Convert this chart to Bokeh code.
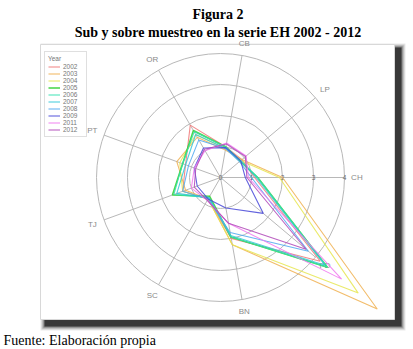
import numpy as np
from bokeh.plotting import figure
from bokeh.models import Range1d, Legend, LegendItem
from bokeh.core.properties import value
from bokeh.embed import file_html
from bokeh.resources import INLINE

# ---------------- data ----------------
categories = ["CH", "LP", "CB", "OR", "PT", "TJ", "SC", "BN", "PD"]
years = ["2002", "2003", "2004", "2005", "2006", "2007", "2008", "2009", "2011", "2012"]
v2002 = [1.10, 0.90, 1.00, 1.95, 1.20, 1.30, 0.80, 2.00, 4.20]
v2003 = [2.00, 0.90, 0.90, 1.50, 1.50, 1.20, 0.80, 2.20, 6.60]
v2004 = [1.90, 0.85, 0.95, 1.60, 1.40, 1.30, 0.80, 2.20, 5.80]
v2005 = [1.20, 0.82, 1.00, 1.75, 1.30, 1.65, 0.70, 1.95, 4.50]
v2006 = [1.20, 0.85, 1.00, 1.70, 1.30, 1.60, 0.75, 1.95, 4.50]
v2007 = [1.15, 0.85, 0.95, 1.60, 1.20, 1.50, 0.75, 1.90, 4.40]
v2008 = [1.00, 0.80, 0.95, 1.40, 1.10, 1.30, 0.80, 1.80, 3.70]
v2009 = [0.80, 0.85, 0.98, 1.10, 0.90, 0.80, 0.80, 1.00, 1.80]
v2011 = [0.90, 1.08, 1.13, 1.00, 0.90, 1.00, 0.85, 1.50, 5.10]
v2012 = [0.85, 1.05, 1.10, 1.05, 0.85, 0.90, 0.85, 1.50, 3.60]
series = [v2002, v2003, v2004, v2005, v2006, v2007, v2008, v2009, v2011, v2012]
colors = ["#f07878", "#f0b050", "#e6e650", "#30d030", "#30e0b0",
          "#30c8d8", "#50a8f0", "#4848d8", "#f078f0", "#b048b8"]
ring_values = [1, 2, 3, 4]
tick_labels = ["0", "1", "2", "3", "4"]

# ---------------- layout helpers (pixels -> data units) ----------------
W, H = 413, 349
CX, CY, U = 220, 177, 31.0
def sx(px):
    return (px - CX) / U
def sy(py):
    return (CY - py) / U

p = figure(width=W, height=H, output_backend="svg", toolbar_location=None,
           x_range=Range1d(sx(0), sx(W)), y_range=Range1d(sy(H), sy(0)),
           min_border=0, x_axis_type=None, y_axis_type=None)
p.grid.visible = False
p.outline_line_color = None
p.background_fill_color = "white"
p.border_fill_color = "white"

# ---------------- panel with drop shadow ----------------
for i, a in enumerate([0.10, 0.15, 0.22, 0.35]):
    e = 4 - i
    p.quad(left=sx(44 - e), right=sx(401 + e), top=sy(47 - e), bottom=sy(326 + e),
           fill_color="#303030", fill_alpha=a, line_color=None)
p.quad(left=sx(44), right=sx(401), top=sy(47), bottom=sy(326),
       fill_color="#303030", fill_alpha=0.9, line_color=None)
p.quad(left=sx(40), right=sx(394), top=sy(44), bottom=sy(319),
       fill_color="white", line_color="#d8d8d8", line_width=1)

# ---------------- radar grid ----------------
n = len(categories)
theta = np.deg2rad(np.arange(n) * 360.0 / n)
rmax = max(ring_values)
p.circle(x=[0] * len(ring_values), y=[0] * len(ring_values), radius=ring_values,
         fill_color=None, line_color="#b8b8b8", line_width=1)
p.segment(x0=[0] * n, y0=[0] * n, x1=list(rmax * np.cos(theta)), y1=list(rmax * np.sin(theta)),
          line_color="#b8b8b8", line_width=1)
p.text(x=list(4.4 * np.cos(theta)), y=list(4.4 * np.sin(theta)), text=categories,
       text_align="center", text_baseline="middle", text_font=value("Liberation Sans"),
       text_font_size="8px", text_color="#8a8a8a")
p.text(x=list(range(len(tick_labels))), y=[0] * len(tick_labels), text=tick_labels,
       text_align="center", text_baseline="middle", text_font=value("Liberation Sans"),
       text_font_size="6.5px", text_color="#6a6a6a")

# ---------------- series ----------------
items = []
for yr, vals, col in zip(years, series, colors):
    v = np.array(vals + vals[:1])
    t = np.concatenate([theta, theta[:1]])
    r = p.line(x=list(v * np.cos(t)), y=list(v * np.sin(t)), line_color=col,
               line_width=1.6 if yr == "2005" else 1.1, line_alpha=0.85)
    items.append(LegendItem(label=yr, renderers=[r]))

legend = Legend(items=items, location=(44, H - 137), title="Year")
legend.title_text_font_size = "6.5px"
legend.title_text_font_style = "normal"
legend.title_text_color = "#777777"
legend.title_text_font = "Liberation Sans"
legend.title_standoff = 1
legend.label_text_font_size = "6.5px"
legend.label_text_color = "#777777"
legend.label_text_font = "Liberation Sans"
legend.label_height = 7
legend.glyph_height = 7
legend.glyph_width = 12
legend.label_standoff = 3
legend.spacing = 0
legend.padding = 3
legend.margin = 0
legend.border_line_color = "#c0c0c0"
legend.background_fill_color = "white"
legend.background_fill_alpha = 1.0
p.add_layout(legend)

# ---------------- titles and source ----------------
p.text(x=[sx(217.5)], y=[sy(14)], text=["Figura 2"], text_align="center",
       text_baseline="alphabetic", text_font=value("Liberation Serif"),
       text_font_size="14px", text_font_style="bold", text_color="black")
p.text(x=[sx(217.5)], y=[sy(32)], text=["Sub y sobre muestreo en la serie EH 2002 - 2012"],
       text_align="center", text_baseline="alphabetic", text_font=value("Liberation Serif"),
       text_font_size="14px", text_font_style="bold", text_color="black")
p.text(x=[sx(3)], y=[sy(340)], text=["Fuente: Elaboración propia"], text_align="left",
       text_baseline="alphabetic", text_font=value("Liberation Serif"),
       text_font_size="14px", text_color="black")

open("out.html", "w").write(file_html(p, INLINE))
